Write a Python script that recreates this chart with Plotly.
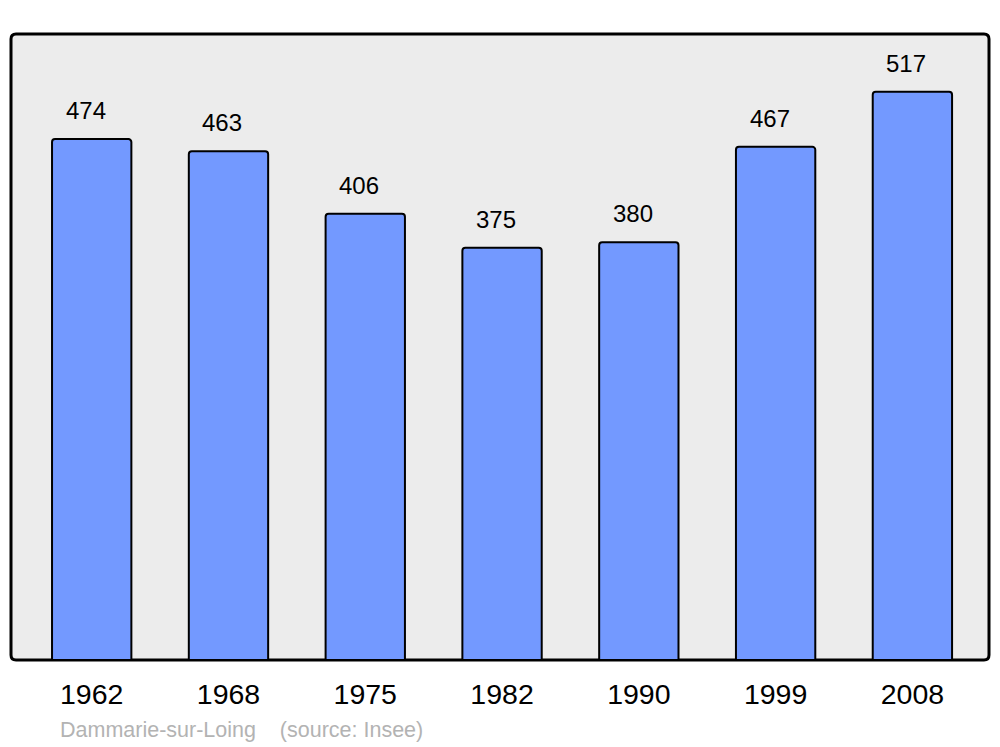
import plotly.graph_objects as go

years = ["1962", "1968", "1975", "1982", "1990", "1999", "2008"]
population = [474, 463, 406, 375, 380, 467, 517]

FONT = "Liberation Sans, Arial"

fig = go.Figure()
fig.add_trace(go.Bar(
    x=years, y=population, width=0.58,
    marker=dict(color="#7399ff", line=dict(color="black", width=2), cornerradius=3),
    hoverinfo="x+y",
))

# value labels above the bars (slightly left of centre, as in the original)
for i, val in enumerate(population):
    fig.add_annotation(x=i, y=val, xref="x", yref="y", text=str(val), showarrow=False,
                       yanchor="bottom", yshift=13, xshift=-6,
                       font=dict(family=FONT, size=24, color="black"))

# rounded plot frame
W, H = 978.0, 626.0
rx, ry = 5 / W, 5 / H
path = (f"M {rx},0 L {1-rx},0 Q 1,0 1,{ry} L 1,{1-ry} Q 1,1 {1-rx},1 "
        f"L {rx},1 Q 0,1 0,{1-ry} L 0,{ry} Q 0,0 {rx},0 Z")
fig.add_shape(type="path", path=path, xref="paper", yref="paper",
              fillcolor="#ececec", line=dict(color="black", width=3), layer="below")

fig.add_annotation(xref="paper", yref="paper", x=(58 - 11) / W, y=-(730 - 660) / H,
                   text="Dammarie-sur-Loing    (source: Insee)", showarrow=False,
                   font=dict(family=FONT, size=21.5, color="#b3b3b3"),
                   xanchor="left", yanchor="middle")

fig.update_layout(
    width=1000, height=747,
    margin=dict(l=11, r=11, t=34, b=87),
    paper_bgcolor="white", plot_bgcolor="rgba(0,0,0,0)",
    showlegend=False,
    xaxis=dict(type="category", range=[-0.59, 6.56], showgrid=False, zeroline=False,
               showline=False, ticks="outside", ticklen=9, tickcolor="rgba(0,0,0,0)",
               tickfont=dict(family=FONT, size=28.5, color="black")),
    yaxis=dict(range=[0, 569.6], showgrid=False, zeroline=False, showline=False,
               showticklabels=False),
)

fig.write_html("out.html", config={"displayModeBar": False},
               post_script="document.body.style.margin='0';")
